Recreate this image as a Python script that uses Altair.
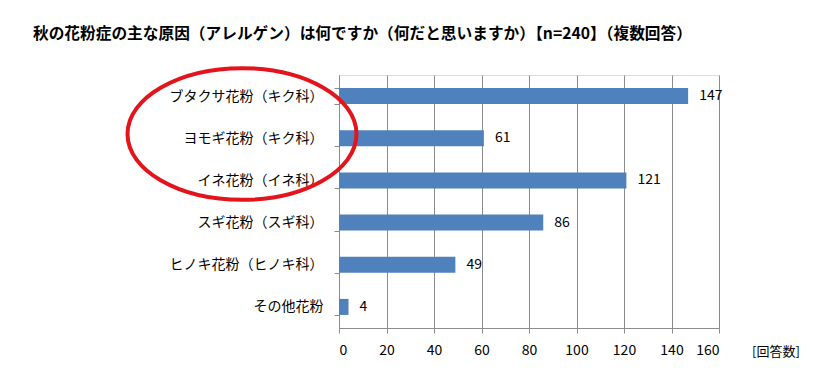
import altair as alt
import pandas as pd

categories = ["ブタクサ花粉（キク科）", "ヨモギ花粉（キク科）", "イネ花粉（イネ科）",
              "スギ花粉（スギ科）", "ヒノキ花粉（ヒノキ科）", "その他花粉"]
counts = [147, 61, 121, 86, 49, 4]
x_ticks = [0, 20, 40, 60, 80, 100, 120, 140, 160]
title_text = "秋の花粉症の主な原因（アレルゲン）は何ですか（何だと思いますか）【n=240】（複数回答）"
unit_label = "[回答数]"

FONT = "Noto Sans CJK JP"

df = pd.DataFrame({"cat": categories, "n": counts})

y_enc = alt.Y("cat:N", sort=categories, title=None,
              scale=alt.Scale(paddingInner=0.62, paddingOuter=0.31),
              axis=alt.Axis(labelFontSize=14, labelColor="#000000", labelFont=FONT,
                            labelPadding=11, tickSize=5, tickColor="#8c8c8c",
                            domainColor="#8c8c8c", tickBand="extent", grid=False,
                            labelLimit=300))
x_enc = alt.X("n:Q", title=None,
              scale=alt.Scale(domain=[0, 160], nice=False),
              axis=alt.Axis(values=x_ticks, labelFontSize=14, labelColor="#000000",
                            labelFont=FONT, labelPadding=10, tickSize=5,
                            tickColor="#8c8c8c", domainColor="#8c8c8c",
                            grid=True, gridColor="#8c8c8c", gridWidth=1))

bars = alt.Chart(df).mark_bar(color="#4F81BD").encode(x=x_enc, y=y_enc)

labels = alt.Chart(df).mark_text(align="left", baseline="middle", dx=11,
                                 fontSize=14, font=FONT, color="#000000").encode(
    x="n:Q", y=alt.Y("cat:N", sort=categories), text="n:Q")

unit = alt.Chart(pd.DataFrame({"t": [unit_label]})).mark_text(
    align="left", baseline="middle", fontSize=13, font=FONT, color="#000000").encode(
    x=alt.value(413), y=alt.value(277), text="t:N")

title = alt.Chart(pd.DataFrame({"t": [title_text]})).mark_text(
    align="left", baseline="middle", fontSize=15.7, fontWeight="bold", font=FONT,
    color="#000000").encode(x=alt.value(-306), y=alt.value(-41), text="t:N")

ellipse_path = ("M-1,0 C-1,-0.317 -0.552,-0.575 0,-0.575 C0.552,-0.575 1,-0.317 1,0 "
                "C1,0.317 0.552,0.575 0,0.575 C-0.552,0.575 -1,0.317 -1,0 Z")
ell = alt.Chart(pd.DataFrame({"k": [1]})).mark_point(
    shape=ellipse_path, filled=False, stroke="#E3141B", strokeWidth=4,
    size=229 * 229, opacity=1).encode(
    x=alt.value(-97), y=alt.value(59))

chart = alt.layer(bars, labels, unit, title, ell).properties(
    width=380, height=253,
    autosize=alt.AutoSizeParams(type="none"),
    padding={"left": 331, "top": 67, "right": 99, "bottom": 44},
).configure_view(stroke=None).configure(background="white")

chart.save("out.html", embed_options={"renderer": "svg", "actions": False})
